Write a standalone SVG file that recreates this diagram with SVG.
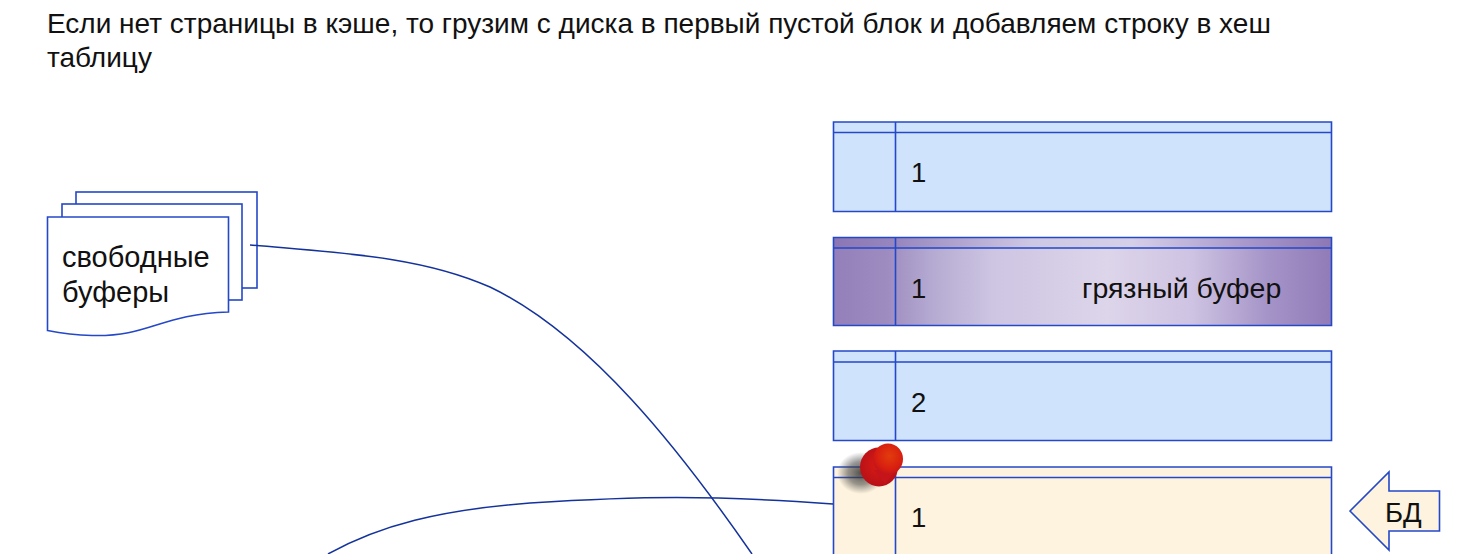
<svg xmlns="http://www.w3.org/2000/svg" width="1462" height="554" viewBox="0 0 1462 554">
<style>
text{font-family:"Liberation Sans",Arial,sans-serif;fill:#111}
.t{font-size:28px}
.l{font-size:27.5px}
.f{font-size:29px}
.d{font-size:28.500px}
.b{stroke:#2448c8;stroke-width:1.6}
.blue{fill:#cfe3fd}
.cream{fill:#fef3de}
.ln{fill:none;stroke:#2448c8;stroke-width:1.6}
.c{fill:none;stroke:#14329c;stroke-width:1.5}
</style>
<defs>
<linearGradient id="dirty" gradientUnits="userSpaceOnUse" x1="833" y1="0" x2="1332" y2="0">
<stop offset="0" stop-color="#937fba"/><stop offset="0.11" stop-color="#9e8cc0"/><stop offset="0.2" stop-color="#b5abd2"/><stop offset="0.32" stop-color="#cdc5e2"/><stop offset="0.55" stop-color="#ddd5ea"/><stop offset="0.72" stop-color="#cec3e2"/><stop offset="0.87" stop-color="#a594c8"/><stop offset="1" stop-color="#917bb8"/>
</linearGradient>
<linearGradient id="dirtyTop" gradientUnits="userSpaceOnUse" x1="833" y1="0" x2="1332" y2="0">
<stop offset="0" stop-color="#8a76b4"/><stop offset="0.13" stop-color="#9887bf"/><stop offset="0.4" stop-color="#cfc8e4"/><stop offset="0.6" stop-color="#d6cfe8"/><stop offset="0.85" stop-color="#a493c8"/><stop offset="1" stop-color="#8d78b6"/>
</linearGradient>
<radialGradient id="pinShadow"><stop offset="0" stop-color="#333" stop-opacity="0.85"/><stop offset="0.55" stop-color="#444" stop-opacity="0.55"/><stop offset="1" stop-color="#555" stop-opacity="0"/></radialGradient>
<radialGradient id="pinHead" cx="0.55" cy="0.4" r="0.6"><stop offset="0" stop-color="#e23c0c"/><stop offset="0.7" stop-color="#d81f10"/><stop offset="1" stop-color="#c4141a"/></radialGradient>
<radialGradient id="pinBody" cx="0.5" cy="0.45" r="0.6"><stop offset="0" stop-color="#d91c14"/><stop offset="1" stop-color="#b50f18"/></radialGradient>
</defs>

<g id="title"><text class="t" x="47" y="33">Если нет страницы в кэше, то грузим с диска в первый пустой блок и добавляем строку в хеш</text><text class="t" x="47" y="67">таблицу</text></g>

<g id="free-buffers">
<rect x="76" y="192" width="181" height="96" fill="#fff" class="b"/>
<rect x="62" y="204" width="180" height="96" fill="#fff" class="b"/>
<path d="M47.500 217H228.500V312C160 314 150 337 92 335.500C72 335 60 333 47.500 330.500Z" fill="#fff" class="b"/>
<text class="f" x="62" y="267">свободные</text><text class="f" x="62" y="302">буферы</text>
</g>

<g id="buffer-1">
<rect x="833.500" y="122" width="498" height="89.500" class="blue"/>
<path class="ln" d="M833.500 122H1331.500V211.500H833.500ZM833.500 132.500H1331.500M895.500 122V211.500"/>
<text class="l" x="911" y="182">1</text>
</g>

<g id="buffer-dirty">
<rect x="833.500" y="237.500" width="498" height="88" fill="url(#dirty)"/>
<rect x="833.500" y="237.500" width="498" height="11" fill="url(#dirtyTop)"/>
<path class="ln" d="M833.500 237.500H1331.500V325.500H833.500ZM833.500 248H1331.500M895.500 237.500V325.500"/>
<text class="l" x="911" y="298">1</text><text class="d" x="1082" y="298">грязный буфер</text>
</g>

<g id="buffer-2">
<rect x="833.500" y="351" width="498" height="89.500" class="blue"/>
<path class="ln" d="M833.500 351H1331.500V440.500H833.500ZM833.500 362H1331.500M895.500 351V440.500"/>
<text class="l" x="911" y="412">2</text>
</g>

<g id="buffer-new">
<rect x="833.500" y="467" width="498" height="95" class="cream"/>
<path class="ln" d="M833.500 562V467H1331.500V562M833.500 477.500H1331.500M895.500 467V562"/>
<text class="l" x="911" y="527">1</text>
</g>

<g id="db-arrow">
<path d="M1350 511L1389 472V491H1439.500V531H1389V550Z" class="cream"/>
<path class="ln" d="M1350 511L1389 472V491H1439.500V531H1389V550Z"/>
<text class="l" x="1385" y="522">БД</text>
</g>

<g id="connectors">
<path class="c" d="M250 245C340 253 420 256 490 287C590 335 680 450 752 554"/>
<path class="c" d="M328 554C380 525 440 510 530 503C640 496 710 495 833 504"/>
</g>

<g id="pin">
<ellipse cx="861" cy="473" rx="24" ry="21" fill="url(#pinShadow)"/>
<ellipse cx="879" cy="467" rx="19" ry="19.500" fill="url(#pinBody)"/>
<path d="M874 470L896 470L885 484Z" fill="#c5141a"/>
<ellipse cx="888" cy="459" rx="15" ry="15.500" fill="url(#pinHead)"/>
</g>
</svg>
